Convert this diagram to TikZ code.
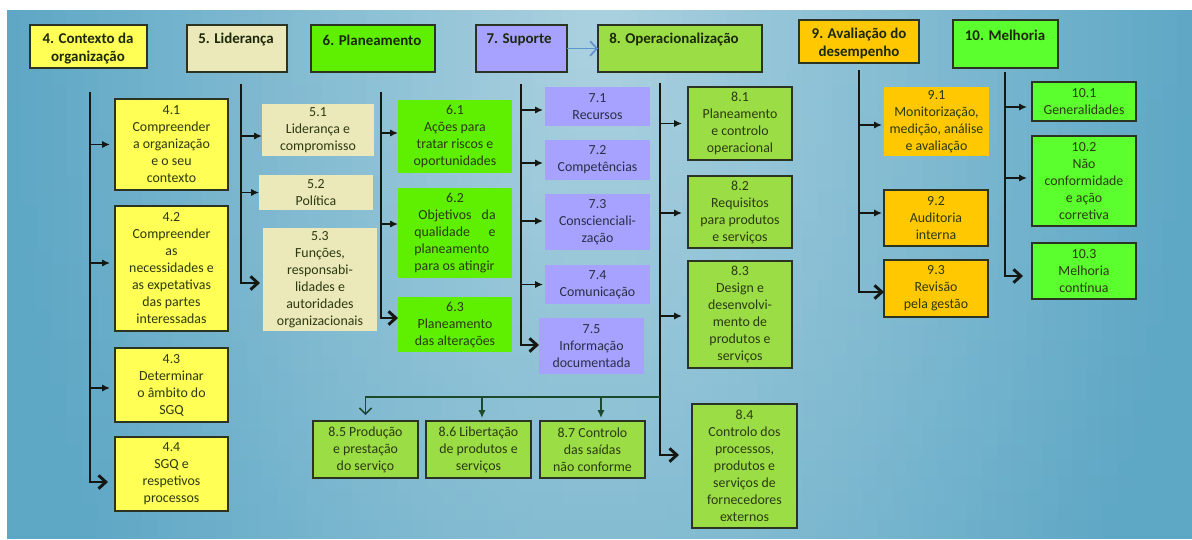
\documentclass[tikz,border=0pt]{standalone}
\usepackage{fontspec}
\setmainfont{Carlito}
\usetikzlibrary{arrows.meta,calc}

\definecolor{bgE}{HTML}{5EA7C5}
\definecolor{bgM}{HTML}{ABD1DF}
\definecolor{cYel}{HTML}{FFFF55}
\definecolor{cBeige}{HTML}{EBE8B9}
\definecolor{cGreen}{HTML}{5EF000}
\definecolor{cLav}{HTML}{A7A2FF}
\definecolor{cOlive}{HTML}{9BDD45}
\definecolor{cOrange}{HTML}{FFC800}
\definecolor{cLime}{HTML}{5CFF2E}
\definecolor{edge}{HTML}{2B3322}
\definecolor{ink}{HTML}{151812}
\definecolor{txt}{HTML}{2C3A12}
\definecolor{txtlav}{HTML}{2A2F48}
\definecolor{hdrtxt}{HTML}{1C280A}
\definecolor{feed}{HTML}{1D4A2C}
\definecolor{linkblue}{HTML}{5E95CC}

\tikzset{
  edged/.style={draw=edge, line width=1.1pt},
  body/.style={inner sep=0pt, outer sep=0pt, align=center, text=txt,
    font=\fontsize{10.4}{12.75}\selectfont},
  hdrtext/.style={inner sep=0pt, align=center, text=hdrtxt,
    font=\bfseries\fontsize{11.2}{13.5}\selectfont},
  yel/.style={body, fill=cYel, edged},
  beige/.style={body, fill=cBeige},
  grn/.style={body, fill=cGreen},
  lav/.style={body, fill=cLav, text=txtlav},
  olive/.style={body, fill=cOlive, edged},
  orng/.style={body, fill=cOrange},
  orngb/.style={body, fill=cOrange, edged},
  lime/.style={body, fill=cLime, edged},
  bar/.style={draw=ink, line width=2.2pt,
    -{Straight Barb[length=5.5pt,width=10pt]}},
  branchline/.style={draw=ink, line width=1.1pt,
    -{Latex[length=6pt,width=5.5pt]}},
  feedline/.style={draw=feed, line width=1.1pt},
  seqline/.style={draw=linkblue, line width=1.3pt,
    -{Straight Barb[length=5pt,width=11pt]}},
}

% box by its corners (in pixels): name, style, x1, y1, x2, y2, text
\newcommand\boxat[7]{%
  \node[#2, minimum width={(#5-#3)*0.75pt}, minimum height={(#6-#4)*0.75pt}]
    (#1) at ({(#3+#5)/2},{(#4+#6)/2}) {#7};}
% branch arrow from a bar to a box: bar top, box, vertical offset, shortening
\newcommand\twig[4]{%
  \coordinate (#2-e) at ($(#2.west)+(0,#3)$);
  \draw[branchline, shorten >=#4] (#2-e -| #1) -- (#2-e);}
% bar running down and turning into the last box
\newcommand\lastarrow[4]{%
  \coordinate (#2-e) at ($(#2.west)+(0,#3)$);
  \draw[bar, shorten >=#4] (#1) |- (#2-e);}

\begin{document}
\begin{tikzpicture}[x=0.75pt,y=-0.75pt]
\useasboundingbox (0,0) rectangle (1192,539);
\fill[white] (0,0) rectangle (1192,539);
% backdrop: soft glow centred on the top middle, built from small tiles
\foreach \i in {0,...,79} {
  \foreach \j in {0,...,35} {
    \pgfmathsetmacro\xa{7+\i*15}
    \pgfmathsetmacro\ya{10+\j*15}
    \pgfmathsetmacro\dd{sqrt(((\xa+7.5-600)/590)^2+((\ya+7.5-40)/1000)^2)}
    \pgfmathsetmacro\p{max(0,100*(1-\dd))}
    \fill[bgM!\p!bgE] (\xa,\ya) rectangle ({min(\xa+15.6,1192)},{min(\ya+15.6,539)});
  }
}

% clause headers
\boxat{h4}{yel}{30}{25}{147}{68}{}
\boxat{h5}{beige, edged}{187}{25}{287}{72}{}
\boxat{h6}{grn, edged}{311}{25}{435}{72}{}
\boxat{h7}{lav, edged}{476}{25}{567}{72}{}
\boxat{h8}{olive}{598}{25}{762}{72}{}
\boxat{h9}{orngb}{799}{20}{919}{63}{}
\boxat{h10}{lime}{953}{20}{1058}{68}{}
\node[hdrtext] (h4t) at (88,48.5) {4. Contexto da\\organização};
\node[hdrtext] (h5t) at (236,40) {5. Liderança};
\node[hdrtext] (h6t) at (372,40) {6. Planeamento};
\node[hdrtext] (h7t) at (519,40) {7. Suporte};
\node[hdrtext] (h8t) at (674,40) {8. Operacionalização};
\node[hdrtext] (h9t) at (859,43.5) {9. Avaliação do\\desempenho};
\node[hdrtext] (h10t) at (1005,35) {10. Melhoria};
\draw[seqline] (h7.east) -- (h8.west);

% 4. Contexto da organização
\boxat{b41}{yel}{115}{99}{228}{190}{4.1\\Compreender\\a organização\\e o seu\\contexto}
\boxat{b42}{yel}{115}{206}{228}{331}{4.2\\Compreender\\as\\necessidades e\\as expetativas\\das partes\\interessadas}
\boxat{b43}{yel}{115}{348}{228}{422}{4.3\\Determinar\\o âmbito do\\SGQ}
\boxat{b44}{yel}{115}{437}{228}{511}{4.4\\SGQ e\\respetivos\\processos}

% 5. Liderança
\boxat{b51}{beige}{262}{104}{374}{156}{5.1\\Liderança e\\compromisso}
\boxat{b52}{beige}{259}{175}{373}{210}{5.2\\Política}
\boxat{b53}{beige}{263}{228}{377}{331}{5.3\\Funções,\\responsabi-\\lidades e\\autoridades\\organizacionais}

% 6. Planeamento
\boxat{b61}{grn}{398}{100}{512}{173}{6.1\\Ações para\\tratar riscos e\\oportunidades}
\boxat{b62}{grn}{398}{188}{512}{278}{6.2\\\makebox[61pt]{\hspace{3pt}Objetivos\hfill da}\\\makebox[61pt]{qualidade\hfill e}\\\makebox[61pt]{planeamento\hfill}\\\makebox[61pt]{para os atingir\hfill}}
\boxat{b63}{grn}{398}{297}{512}{352}{6.3\\Planeamento\\das alterações}

% 7. Suporte
\boxat{b71}{lav}{545}{87}{650}{126}{7.1\\Recursos}
\boxat{b72}{lav}{545}{140}{650}{180}{7.2\\Competências}
\boxat{b73}{lav}{545}{194}{650}{250}{7.3\\Conscienciali-\\zação}
\boxat{b74}{lav}{545}{265}{650}{304}{7.4\\Comunicação}
\boxat{b75}{lav}{539}{318}{644}{374}{7.5\\Informação\\documentada}

% 8. Operacionalização
\boxat{b81}{olive}{688}{87}{792}{160}{8.1\\Planeamento\\e controlo\\operacional}
\boxat{b82}{olive}{688}{176}{792}{248}{8.2\\Requisitos\\para produtos\\e serviços}
\boxat{b83}{olive}{688}{261}{792}{368}{8.3\\Design e\\desenvolvi-\\mento de\\produtos e\\serviços}
\boxat{b84}{olive}{692}{404}{797}{528}{8.4\\Controlo dos\\processos,\\produtos e\\serviços de\\fornecedores\\externos}
\boxat{b85}{olive}{313}{421}{418}{478}{8.5 Produção\\e prestação\\do serviço}
\boxat{b86}{olive}{426}{421}{531}{478}{8.6 Libertação\\de produtos e\\serviços}
\boxat{b87}{olive}{540}{421}{645}{478}{8.7 Controlo\\das saídas\\não conforme}

% 9. Avaliação do desempenho
\boxat{b91}{orng}{884}{87}{989}{156}{9.1\\Monitorização,\\medição, análise\\e avaliação}
\boxat{b92}{orngb}{884}{190}{988}{246}{9.2\\Auditoria\\interna}
\boxat{b93}{orngb}{884}{260}{988}{317}{9.3\\Revisão\\pela gestão}

% 10. Melhoria
\boxat{b101}{lime}{1032}{82}{1136}{121}{10.1\\Generalidades}
\boxat{b102}{lime}{1032}{136}{1136}{226}{10.2\\Não\\conformidade\\e ação\\corretiva}
\boxat{b103}{lime}{1032}{243}{1136}{299}{10.3\\Melhoria\\contínua}

% bars and branches
\coordinate (t4) at (90,92);
\coordinate (t5) at (241,84);
\coordinate (t6) at (381,92);
\coordinate (t7) at (521,84);
\coordinate (t8) at (660,83);
\coordinate (t9) at (859,70);
\coordinate (t10) at (1005,72);

\lastarrow{t4}{b44}{8}{5.25pt}
\twig{t4}{b41}{0}{3.75pt}
\twig{t4}{b42}{-5.5}{3.75pt}
\twig{t4}{b43}{3}{3.75pt}

\lastarrow{t5}{b53}{3.5}{2.25pt}
\twig{t5}{b51}{6}{0pt}
\twig{t5}{b52}{0}{0pt}

\lastarrow{t6}{b63}{-6.5}{0pt}
\twig{t6}{b61}{-3.5}{0pt}
\twig{t6}{b62}{-9}{0pt}

\lastarrow{t7}{b75}{-1}{0pt}
\twig{t7}{b71}{3.5}{1.5pt}
\twig{t7}{b72}{3}{1.5pt}
\twig{t7}{b73}{-1}{1.5pt}
\twig{t7}{b74}{0}{1.5pt}

\lastarrow{t8}{b84}{-11}{9.75pt}
\twig{t8}{b81}{0}{4.5pt}
\twig{t8}{b82}{1}{4.5pt}
\twig{t8}{b83}{1.5}{4.5pt}

\lastarrow{t9}{b93}{3.5}{0pt}
\twig{t9}{b91}{3.5}{1.5pt}
\twig{t9}{b92}{-5}{1.5pt}

\lastarrow{t10}{b103}{5}{6.75pt}
\twig{t10}{b101}{5.5}{3.75pt}
\twig{t10}{b102}{-3}{3.75pt}

% feed from 8 down to 8.5 - 8.7
\coordinate (j8) at (660,397);
\coordinate (b86-n) at ($(b86.north)+(3.5,0)$);
\coordinate (b87-n) at ($(b87.north)+(8.5,0)$);
\draw[feedline, -{Straight Barb[length=4.5pt,width=9pt]}, shorten >=4.5pt] (j8) -| (b85.north);
\draw[feedline, -{Latex[length=6pt,width=5.5pt]}, shorten >=2.25pt] (b86-n |- j8) -- (b86-n);
\draw[feedline, -{Latex[length=6pt,width=5.5pt]}, shorten >=2.25pt] (b87-n |- j8) -- (b87-n);
\end{tikzpicture}
\end{document}
